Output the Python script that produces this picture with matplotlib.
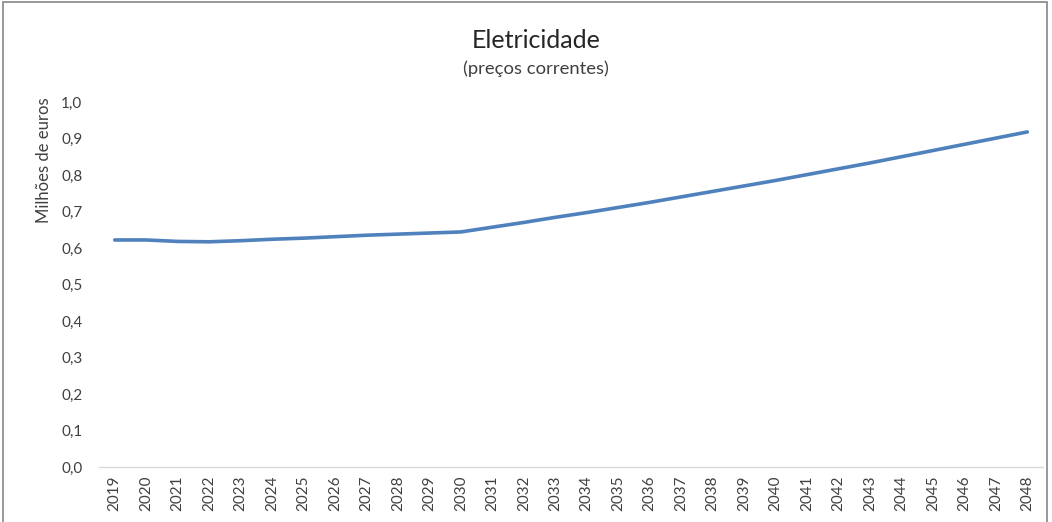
import matplotlib
matplotlib.use('Agg')
import matplotlib.pyplot as plt
from matplotlib.patches import Rectangle

# values (milhões de euros, preços correntes)
years = [str(y) for y in range(2019, 2049)]
values = [0.622, 0.622, 0.618, 0.617, 0.620, 0.624, 0.627, 0.631, 0.635, 0.638,
          0.641, 0.644, 0.657, 0.670, 0.684, 0.697, 0.711, 0.725, 0.740, 0.755,
          0.770, 0.785, 0.801, 0.817, 0.833, 0.850, 0.867, 0.884, 0.901, 0.918]
y_ticks = [0.0, 0.1, 0.2, 0.3, 0.4, 0.5, 0.6, 0.7, 0.8, 0.9, 1.0]
y_labels = [f"{t:.1f}".replace('.', ',') for t in y_ticks]

plt.rcParams['font.family'] = ['Lato', 'DejaVu Sans']
text_color = '#404040'

fig = plt.figure(figsize=(10.52, 5.22), dpi=100)
ax = fig.add_axes([99 / 1052, 1 - 467 / 522, (1043 - 99) / 1052, (467 - 102) / 522])

x = list(range(len(years)))
ax.plot(x, values, color='#4F81BD', linewidth=2.6, solid_capstyle='round')

ax.set_xlim(-0.5, len(years) - 0.5)
ax.set_ylim(0, 1.0)
ax.set_xticks(x)
ax.set_xticklabels(years, rotation=90, fontsize=11, color=text_color)
ax.set_yticks(y_ticks)
ax.set_yticklabels(y_labels, fontsize=11, color=text_color)
ax.tick_params(axis='both', length=0)
ax.tick_params(axis='y', pad=12)
ax.tick_params(axis='x', pad=6)

for side in ['top', 'right', 'left']:
    ax.spines[side].set_visible(False)
ax.spines['bottom'].set_color('#d9d9d9')
ax.spines['bottom'].set_linewidth(1)

fig.text(536 / 1052, 1 - 40 / 522, 'Eletricidade', ha='center', va='center',
         fontsize=18, color='#262626')
fig.text(536 / 1052, 1 - 69 / 522, '(preços correntes)', ha='center', va='center',
         fontsize=13.3, color=text_color)
fig.text(44 / 1052, 1 - 160 / 522, 'Milhões de euros', ha='center', va='center',
         rotation=90, fontsize=12, color=text_color)

# outer chart frame (cut at the bottom in the reference)
fig.patches.append(Rectangle((3 / 1052, -0.05), 1044 / 1052, 1.05 - 2 / 522,
                             transform=fig.transFigure, fill=False,
                             edgecolor='#868686', linewidth=1.2))

fig.savefig('out.png', dpi=100)
